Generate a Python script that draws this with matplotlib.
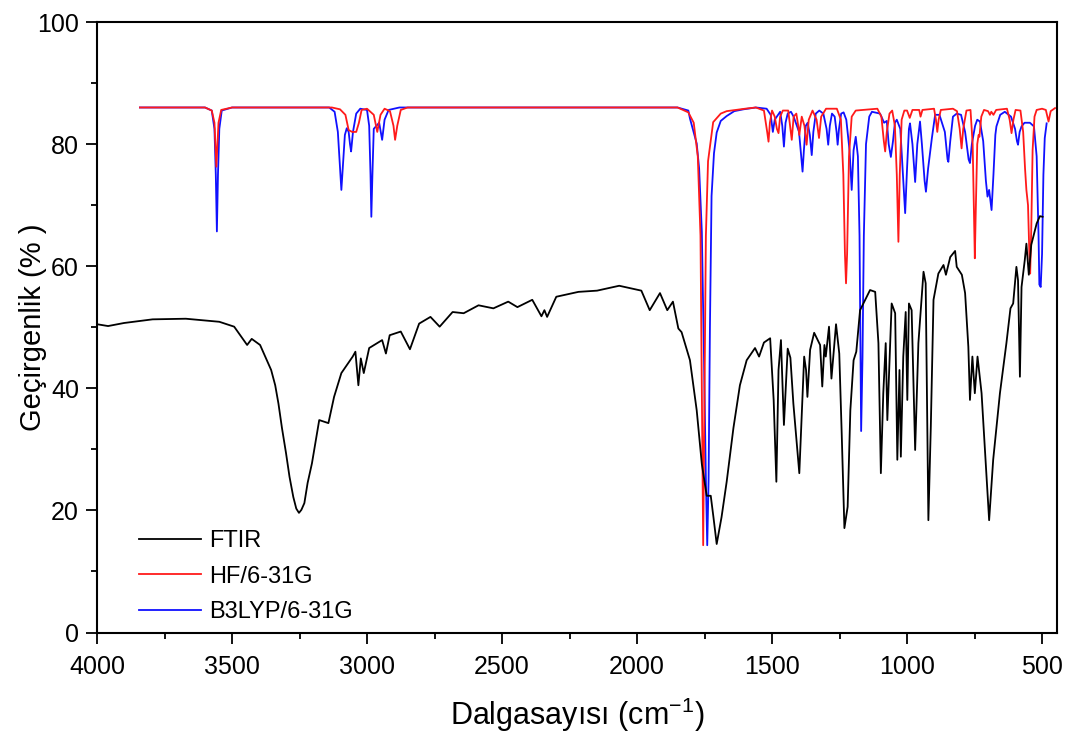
import numpy as np
import matplotlib
matplotlib.use("Agg")
import matplotlib.pyplot as plt
from matplotlib.ticker import MultipleLocator

plt.rcParams['font.family'] = ['Liberation Sans', 'DejaVu Sans']
plt.rcParams['mathtext.default'] = 'regular'

# FTIR (deney) - dalga sayısı / geçirgenlik
ftir_x = [4000, 3959, 3900, 3794, 3671, 3547, 3492, 3444, 3427, 3396, 3355, 3340, 3328, 3315, 3300,
          3287, 3273, 3262, 3252, 3243, 3232, 3220, 3204, 3177, 3156, 3143, 3122, 3095, 3053, 3043,
          3032, 3023, 3012, 2992, 2944, 2930,
          2916, 2875, 2841, 2807, 2765, 2731, 2683, 2642, 2587, 2532, 2477, 2443, 2388, 2354, 2343,
          2333, 2299, 2217, 2148, 2066, 2025, 1984, 1953, 1915, 1888, 1867, 1847, 1835, 1804, 1779,
          1760, 1742, 1727, 1717, 1705, 1687, 1668, 1643, 1619, 1594, 1563, 1548, 1530, 1507, 1494,
          1484, 1476, 1467, 1456, 1442, 1432, 1421, 1399, 1381, 1374, 1369, 1359, 1344, 1322, 1314,
          1306, 1301, 1289, 1280, 1263, 1251, 1242, 1232, 1220, 1210, 1198, 1188, 1174, 1155, 1137,
          1118, 1106, 1097, 1088, 1079, 1073, 1057, 1044, 1036, 1028, 1023, 1014, 1005, 999, 993,
          983, 970, 958, 939, 931, 921, 912, 902, 884, 865, 856, 840, 822, 816, 797,
          785, 773, 767, 758, 749, 739, 724, 696, 681, 656, 632, 617, 607, 595, 589,
          582, 576, 564, 558, 549, 540, 520, 508, 498]
ftir_y = [50.5, 50.2, 50.7, 51.3, 51.4, 50.9, 50.1, 47.1, 48.1, 47.1, 43.0, 40.5, 37.5, 33.5, 29.4,
          25.5, 22.2, 20.3, 19.6, 20.1, 21.2, 24.5, 27.7, 34.8, 34.5, 34.3, 38.6, 42.5, 45.2, 46.0,
          40.5, 44.9, 42.5, 46.6, 47.9, 45.7,
          48.7, 49.3, 46.4, 50.6, 51.7, 50.1, 52.5, 52.3, 53.6, 53.1, 54.2, 53.3, 54.5, 51.8, 52.8,
          51.7, 55.0, 55.8, 56.0, 56.8, 56.4, 56.0, 52.8, 55.6, 52.8, 54.2, 49.8, 49.2, 44.6, 36.4,
          27.6, 22.4, 22.4, 18.9, 14.5, 18.9, 24.7, 33.5, 40.5, 44.6, 46.6, 45.2, 47.5, 48.2, 38.1,
          24.7, 43.0, 47.9, 34.0, 46.5, 45.0, 37.5, 26.1, 45.2, 43.0, 38.6, 46.3, 49.1, 47.1, 40.3,
          47.1, 45.2, 50.1, 41.6, 50.5, 45.7, 32.6, 17.1, 20.6, 36.4, 44.6, 46.0, 52.8, 54.5, 56.1,
          55.8, 47.4, 26.1, 39.2, 47.4, 34.8, 53.9, 52.3, 28.3, 43.0, 28.8, 45.2, 52.5, 38.1, 53.9,
          52.8, 29.9, 47.4, 59.1, 57.2, 18.4, 33.7, 54.5, 58.8, 60.2, 58.6, 61.5, 62.5, 59.9, 58.6,
          55.6, 46.8, 38.1, 45.2, 39.2, 45.2, 39.2, 18.4, 28.3, 39.2, 47.4, 53.1, 53.9, 59.9, 57.7,
          41.9, 56.6, 61.0, 63.7, 58.6, 63.5, 67.0, 68.2, 68.1]

# HF/6-31G
hf_x = [3841, 3600, 3575, 3565, 3558, 3550, 3540, 3500, 3130, 3100, 3080, 3068, 3055, 3040, 3030,
        3020, 3000, 2975, 2962, 2950, 2935, 2915, 2902, 2896, 2888, 2875, 2850, 1850, 1810, 1790,
        1775, 1765, 1760, 1755, 1750, 1745, 1737, 1718, 1690, 1668, 1600, 1560, 1530, 1518, 1513,
        1508, 1500, 1490, 1482, 1476, 1470, 1460, 1440, 1432, 1427, 1420, 1410, 1403, 1399, 1390,
        1380, 1372, 1364, 1350, 1335, 1326, 1318, 1300, 1260, 1245, 1236, 1230, 1226, 1222, 1215,
        1205, 1190, 1110, 1095, 1086, 1081, 1075, 1065, 1055, 1045, 1038, 1032, 1027, 1020, 1010,
        1000, 990, 980, 955, 950, 943, 900, 893, 888, 883, 875, 830, 815, 805, 798,
        792, 780, 765, 757, 752, 749, 746, 740, 735, 732, 725, 715, 700, 693, 688,
        680, 670, 630, 620, 613, 606, 598, 580, 570, 563, 558, 552, 547, 544, 540,
        535, 528, 520, 500, 486, 476, 468, 452]
hf_y = [86.0, 86.0, 85.5, 83.5, 76.3, 83.5, 85.6, 86.0, 86.0, 85.7, 84.8, 82.3, 82.0, 82.0, 83.5,
        85.6, 85.8, 84.8, 82.0, 84.8, 85.8, 85.4, 83.0, 80.7, 83.0, 85.6, 86.0, 86.0, 85.2, 83.5,
        78.0, 65.0, 40.0, 14.3, 40.0, 65.0, 77.2, 83.6, 85.0, 85.4, 85.8, 86.0, 85.5, 82.0, 80.4,
        83.5, 85.5, 84.5, 82.5, 81.8, 84.5, 85.5, 85.5, 82.5, 80.7, 84.5, 85.0, 83.0, 81.5, 84.5,
        83.0, 79.9, 84.0, 85.5, 84.0, 81.0, 84.5, 85.8, 85.8, 84.0, 75.0, 62.0, 57.2, 62.0, 78.0,
        84.5, 85.5, 85.8, 84.5, 80.5, 78.8, 82.0, 85.0, 85.5, 83.0, 75.0, 64.0, 75.0, 84.0, 85.5,
        85.5, 84.3, 85.6, 85.6, 84.5, 85.6, 85.8, 84.0, 82.0, 84.0, 85.6, 85.8, 85.4, 82.5, 79.3,
        82.5, 85.5, 85.6, 80.0, 68.0, 61.3, 68.0, 80.0, 81.5, 81.2, 84.5, 85.6, 85.4, 84.8, 85.3,
        84.8, 85.6, 85.8, 84.0, 81.8, 84.0, 85.6, 85.5, 82.0, 76.0, 72.5, 70.0, 62.0, 58.8, 66.0,
        79.0, 84.5, 85.6, 85.8, 85.6, 83.7, 85.4, 85.9]

# B3LYP/6-31G
b3_x = [3841, 3600, 3575, 3565, 3560, 3556, 3552, 3547, 3538, 3500, 3140, 3120, 3108, 3100, 3095,
        3090, 3082, 3075, 3068, 3063, 3059, 3052, 3040, 3025, 3000, 2992, 2987, 2984, 2980, 2975,
        2965, 2955, 2944, 2935, 2920, 2880, 1850, 1810, 1804, 1779, 1770, 1760, 1752, 1745, 1740,
        1735, 1730, 1724, 1715, 1705, 1690, 1668, 1640, 1606, 1560, 1520, 1505, 1497, 1490, 1470,
        1462, 1456, 1450, 1442, 1430, 1420, 1400, 1392, 1387, 1382, 1375, 1368, 1360, 1353, 1347,
        1338, 1325, 1310, 1298, 1292, 1286, 1278, 1268, 1261, 1257, 1252, 1244, 1235, 1225, 1213,
        1205, 1198, 1190, 1182, 1176, 1172, 1170, 1165, 1160, 1152, 1140, 1130, 1100, 1085, 1075,
        1068, 1060, 1052, 1045, 1038, 1025, 1015, 1007, 1000, 993, 989, 980, 970, 962, 952,
        945, 935, 930, 922, 915, 908, 896, 880, 860, 850, 847, 840, 830, 816, 800,
        785, 772, 767, 760, 748, 740, 730, 718, 708, 702, 696, 687, 680, 673, 669,
        655, 638, 615, 600, 593, 589, 583, 576, 565, 545, 530, 520, 513, 510, 505,
        500, 495, 490, 483]
b3_y = [86.0, 86.0, 85.5, 82.5, 75.0, 65.7, 75.0, 82.5, 85.5, 86.0, 86.0, 85.3, 82.0, 76.0, 72.5,
        76.0, 81.5, 82.6, 82.0, 80.0, 78.8, 82.0, 85.0, 85.8, 85.6, 83.0, 75.0, 68.1, 75.0, 82.5,
        83.0, 83.5, 80.7, 84.0, 85.6, 86.0, 86.0, 85.5, 84.2, 80.1, 76.0, 65.6, 45.0, 25.0, 14.3,
        25.0, 50.0, 71.5, 78.5, 81.9, 83.8, 84.6, 85.4, 85.7, 86.0, 85.8, 84.8, 82.0, 84.0, 85.3,
        83.0, 79.6, 83.5, 85.0, 85.3, 84.5, 82.0, 78.0, 75.5, 79.0, 83.0, 83.5, 81.5, 78.2, 82.0,
        85.0, 85.5, 85.0, 82.5, 79.9, 83.0, 85.0, 84.5, 82.0, 79.9, 82.5, 85.0, 85.2, 84.0, 79.0,
        72.5, 79.0, 81.2, 78.0, 65.0, 45.0, 33.0, 45.0, 65.0, 80.0, 84.5, 85.3, 85.0, 83.5, 83.8,
        80.0, 77.9, 80.5, 83.5, 84.0, 82.5, 75.0, 68.7, 76.0, 82.5, 83.4, 80.0, 73.8, 80.0, 83.7,
        80.0, 74.0, 72.2, 76.0, 78.5, 81.0, 84.8, 84.8, 82.0, 77.5, 77.1, 80.5, 84.5, 85.0, 84.8,
        82.0, 77.5, 76.9, 80.0, 83.0, 84.0, 83.7, 80.5, 74.0, 71.4, 72.5, 69.2, 75.0, 81.5, 82.9,
        84.8, 85.3, 84.5, 82.5, 80.5, 79.9, 82.0, 82.9, 83.5, 83.5, 82.9, 78.0, 65.0, 57.0, 56.6,
        62.0, 75.0, 81.0, 83.4]

fig = plt.figure(figsize=(10.73, 7.49), dpi=100)
ax = fig.add_axes([0.0904, 0.1555, 0.8946, 0.8151])

l1, = ax.plot(ftir_x, ftir_y, color='black', lw=1.3, label='FTIR', zorder=3)
l3, = ax.plot(b3_x, b3_y, color='#1010ff', lw=1.3, label='B3LYP/6-31G', zorder=2)
l2, = ax.plot(hf_x, hf_y, color='#ff1a1a', lw=1.3, label='HF/6-31G', zorder=2.5)

ax.set_xlim(4000, 445)
ax.set_ylim(0, 100)
ax.xaxis.set_major_locator(MultipleLocator(500))
ax.xaxis.set_minor_locator(MultipleLocator(250))
ax.yaxis.set_major_locator(MultipleLocator(20))
ax.yaxis.set_minor_locator(MultipleLocator(10))
ax.tick_params(which='major', direction='out', length=8, width=1.3, labelsize=18)
ax.tick_params(axis='x', which='major', pad=8)
ax.tick_params(axis='y', which='major', pad=5)
ax.tick_params(which='minor', direction='out', length=4.5, width=1.3)
for s in ax.spines.values():
    s.set_linewidth(1.5)

ax.set_xlabel('Dalgasayısı (cm$^{-1}$)', fontsize=22, labelpad=12)
ax.set_ylabel('Geçirgenlik (% )', fontsize=21)
ax.yaxis.set_label_coords(-0.052, 0.5)

ax.legend(handles=[l1, l2, l3], loc='upper left', bbox_to_anchor=(0.044, 0.168),
          frameon=False, fontsize=17, handlelength=2.6, handletextpad=0.35,
          labelspacing=0.58, borderpad=0, borderaxespad=0)

fig.savefig('out.png', dpi=100)
